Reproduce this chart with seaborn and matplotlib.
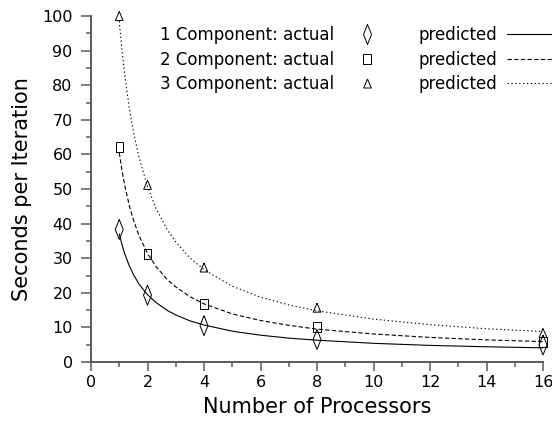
import numpy as np
import pandas as pd
import matplotlib
matplotlib.use("Agg")
import matplotlib.pyplot as plt
from matplotlib.lines import Line2D
from matplotlib.ticker import MultipleLocator
import seaborn as sns

# ---- data ----
processors = [1, 2, 4, 8, 16]
actual_1 = [38.3, 19.3, 10.5, 6.5, 4.9]
actual_2 = [62.2, 31.3, 16.8, 10.1, 5.8]
actual_3 = [100.0, 51.2, 27.3, 15.7, 8.4]

pred_x = [1, 1.1, 1.2, 1.35, 1.5, 1.7, 2, 2.3, 2.7, 3, 3.5, 4, 5, 6, 7, 8, 10, 12, 14, 16]
pred_1 = [37.0, 33.8, 31.15, 27.9, 25.3, 22.5, 19.45, 17.2, 14.9, 13.6, 11.9, 10.7,
          8.9, 7.75, 6.9, 6.3, 5.4, 4.8, 4.4, 4.1]
pred_2 = [60.5, 55.2, 50.8, 45.4, 41.1, 36.5, 31.4, 27.6, 23.8, 21.7, 18.9, 16.8,
          13.9, 12.0, 10.6, 9.5, 8.1, 7.1, 6.4, 5.9]
pred_3 = [98.5, 89.8, 82.6, 73.7, 66.6, 59.1, 50.7, 44.4, 38.2, 34.7, 30.1, 26.7,
          21.9, 18.75, 16.5, 14.8, 12.4, 10.8, 9.6, 8.8]

series_labels = ["1 Component: actual", "2 Component: actual", "3 Component: actual"]
pred_label = "predicted"
x_label = "Number of Processors"
y_label = "Seconds per Iteration"

# ---- style ----
sns.set_theme(style="ticks")
plt.rcParams["font.family"] = ["DejaVu Sans"]
plt.rcParams["text.color"] = "black"
plt.rcParams["axes.labelcolor"] = "black"
plt.rcParams["xtick.labelcolor"] = "black"
plt.rcParams["ytick.labelcolor"] = "black"
spine_col = "#5a5a5a"

diamond = [(0, 1), (0.4, 0), (0, -1), (-0.4, 0), (0, 1)]
square = [(-0.7, -1), (0.7, -1), (0.7, 1), (-0.7, 1), (-0.7, -1)]
triangle = [(0, 1), (0.85, -1), (-0.85, -1), (0, 1)]
markers = [diamond, square, triangle]
msizes = [207, 52, 42]
lstyles = ["-", (0, (3.9, 2.1)), (0, (1.2, 2.3))]

fig = plt.figure(figsize=(5.52, 4.21), dpi=100)
ax = fig.add_axes([91 / 552, 1 - 362 / 421, 452 / 552, 346 / 421])

actuals = [actual_1, actual_2, actual_3]
preds = [pred_1, pred_2, pred_3]

for i in range(3):
    dfp = pd.DataFrame({"x": pred_x, "y": preds[i]})
    sns.lineplot(data=dfp, x="x", y="y", ax=ax, color="black", linewidth=0.8,
                 linestyle=lstyles[i], clip_on=False)
for i in range(3):
    dfa = pd.DataFrame({"x": processors, "y": actuals[i]})
    sns.scatterplot(data=dfa, x="x", y="y", ax=ax, marker=markers[i], s=msizes[i],
                    color="black", facecolor="none", edgecolor="black",
                    linewidth=0.7, clip_on=False, zorder=3)

ax.set_xlim(0, 16)
ax.set_ylim(0, 100)
ax.xaxis.set_major_locator(MultipleLocator(2))
ax.xaxis.set_minor_locator(MultipleLocator(1))
ax.yaxis.set_major_locator(MultipleLocator(10))
ax.yaxis.set_minor_locator(MultipleLocator(5))

sns.despine(ax=ax)
for s in ["left", "bottom"]:
    ax.spines[s].set_color(spine_col)
    ax.spines[s].set_linewidth(1.4)
ax.tick_params(axis="x", which="major", length=6.5, width=1.1, color=spine_col,
               labelsize=11.5, pad=3, labelcolor="black")
ax.tick_params(axis="x", which="minor", length=3.5, width=1.1, color=spine_col)
ax.tick_params(axis="y", which="major", length=7.2, width=1.1, color=spine_col,
               labelsize=11.5, pad=6, labelcolor="black")
ax.tick_params(axis="y", which="minor", length=3.6, width=1.1, color=spine_col)

ax.set_xlabel(x_label, fontsize=15, color="black")
ax.set_ylabel(y_label, fontsize=15, color="black")
ax.xaxis.set_label_coords(0.5, -0.1)
ax.yaxis.set_label_coords(-0.13, 0.5)

# legends
mk_handles = [Line2D([], [], linestyle="none", marker=markers[i],
                     markersize=np.sqrt(msizes[i]), markerfacecolor="none",
                     markeredgecolor="black", markeredgewidth=0.7) for i in range(3)]
ln_handles = [Line2D([], [], color="black", linewidth=0.8, linestyle=lstyles[i])
              for i in range(3)]

leg1 = fig.legend(mk_handles, series_labels, loc="upper left",
                  bbox_to_anchor=(160 / 552, 1 - 26 / 421), frameon=False,
                  markerfirst=False, handlelength=1.0, handletextpad=1.5,
                  borderpad=0, borderaxespad=0, labelspacing=0.4, fontsize=12,
                  labelcolor="black")
leg2 = fig.legend(ln_handles, [pred_label] * 3, loc="upper left",
                  bbox_to_anchor=(418 / 552, 1 - 26 / 421), frameon=False,
                  markerfirst=False, handlelength=3.0, handletextpad=0.6,
                  borderpad=0, borderaxespad=0, labelspacing=0.4, fontsize=12,
                  labelcolor="black")

fig.savefig("out.png", dpi=100)
